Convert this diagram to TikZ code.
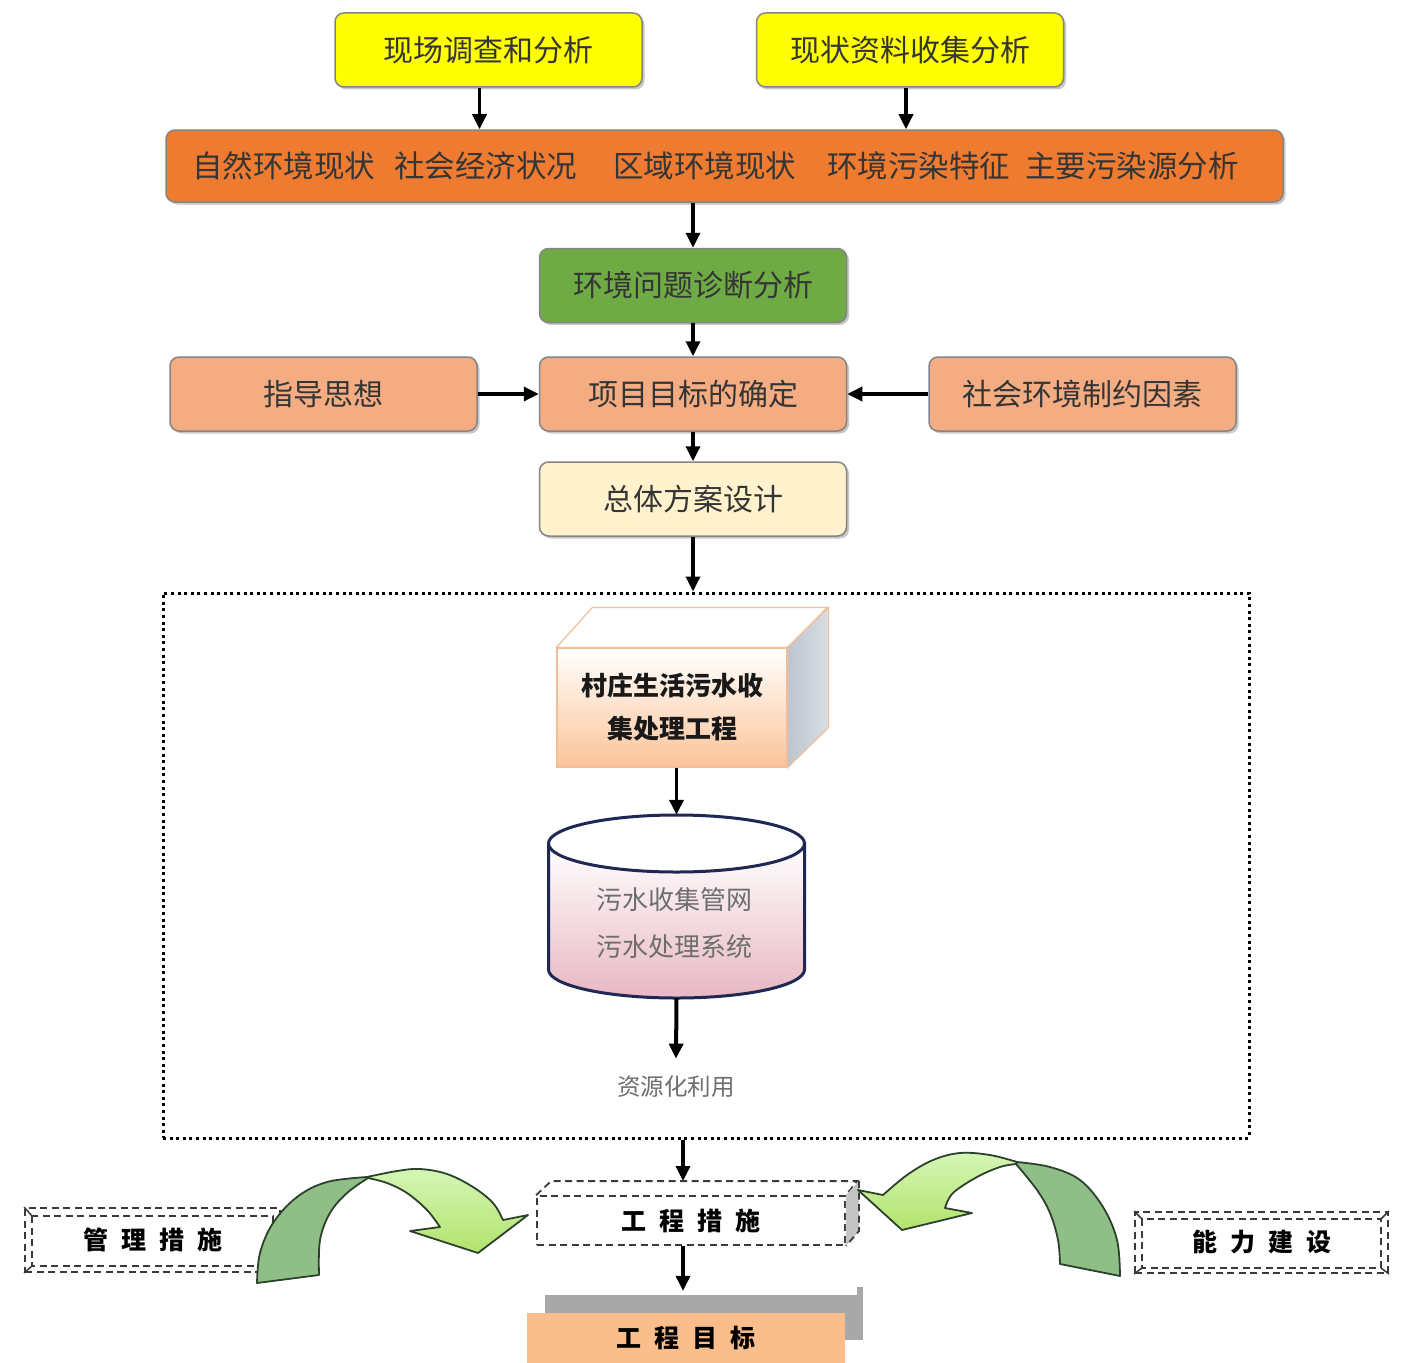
\documentclass[tikz,border=0pt]{standalone}
\usepackage{fontspec}
\newfontfamily\cjk{Noto Sans CJK SC}
\usetikzlibrary{arrows.meta,shadows}
\definecolor{yelc}{HTML}{FFFF00}
\definecolor{orgc}{HTML}{EE7B30}
\definecolor{grnc}{HTML}{6EAB44}
\definecolor{salc}{HTML}{F4AC82}
\definecolor{beic}{HTML}{FFF2CC}
\definecolor{txtc}{HTML}{353535}
\definecolor{linec}{HTML}{858585}
\definecolor{peachc}{HTML}{FAC49A}
\definecolor{peachline}{HTML}{F1BE98}
\definecolor{sidecA}{HTML}{BEC5CF}
\definecolor{sidecB}{HTML}{D9DEE4}
\definecolor{pinkc}{HTML}{E8B7C2}
\definecolor{navyc}{HTML}{1F2753}
\definecolor{greytxt}{HTML}{6E6E6E}
\definecolor{darkgrn}{HTML}{8FBF86}
\definecolor{lgrnA}{HTML}{D4F6B6}
\definecolor{lgrnB}{HTML}{B3E36C}
\definecolor{arrline}{HTML}{2C422C}
\definecolor{gbar}{HTML}{A8A8A8}
\definecolor{goalc}{HTML}{F9BE8C}
\definecolor{dashc}{HTML}{3A3A3A}
\definecolor{gcside}{HTML}{C4C4C4}
\newcommand\gapx{\hspace{13pt}}
\begin{document}
\begin{tikzpicture}[x=1pt,y=1pt,
  box/.style={draw=linec, line width=1.5pt, rounded corners=9pt, minimum width=307pt, minimum height=74pt, inner sep=0pt, text=txtc, font=\cjk\fontsize{30}{36}\selectfont, drop shadow={shadow xshift=2.5pt, shadow yshift=-2.5pt, opacity=0.22, fill=black}},
  bandtxt/.style={anchor=west, inner sep=0pt, text=txtc, font=\cjk\fontsize{30.5}{36}\selectfont},
  arr/.style={-{Triangle[length=15pt,width=14pt]}, line width=3.4pt, draw=black},
  dashline/.style={draw=dashc, line width=1.8pt, dash pattern=on 7pt off 4.5pt},
  dashtxt/.style={font=\cjk\bfseries\fontsize{25}{30}\selectfont, text=black},
  garrow/.style={draw=arrline, line width=1.8pt, line join=round},
]
\useasboundingbox (0,0) rectangle (1404,-1362);
\fill[white] (0,0) rectangle (1404,-1362);

% top boxes
\node[box, fill=yelc] (y1) at (488.5,-50) {现场调查和分析};
\node[box, fill=yelc] (y2) at (910,-50) {现状资料收集分析};
\node[box, fill=orgc, minimum width=1117pt, minimum height=72pt] (band) at (724.5,-166) {};
\node[bandtxt] (t1) at (192,-166) {自然环境现状};
\node[bandtxt] (t2) at (394,-166) {社会经济状况};
\node[bandtxt] (t3) at (613,-166) {区域环境现状};
\node[bandtxt] (t4) at (827,-166) {环境污染特征};
\node[bandtxt] (t5) at (1025,-166) {主要污染源分析};

\node[box, fill=grnc] (diag) at (693,-285.5) {环境问题诊断分析};
\node[box, fill=salc] (guide) at (323.5,-394) {指导思想};
\node[box, fill=salc] (target) at (693,-394) {项目目标的确定};
\node[box, fill=salc] (factor) at (1082.5,-394) {社会环境制约因素};
\node[box, fill=beic] (design) at (693,-499) {总体方案设计};

\draw[arr] ([xshift=-9pt]y1.south) -- ([xshift=-9pt]y1.south |- band.north);
\draw[arr] ([xshift=-4pt]y2.south) -- ([xshift=-4pt]y2.south |- band.north);
\draw[arr] (diag.north |- band.south) -- (diag.north);
\draw[arr] (diag.south) -- (target.north);
\draw[arr] (guide.east) -- (target.west);
\draw[arr] (factor.west) -- (target.east);
\draw[arr] (target.south) -- (design.north);

% dotted frame
\node[draw=black, line width=3pt, dash pattern=on 3pt off 3.6pt, minimum width=1086pt, minimum height=545pt, inner sep=0pt] (frame) at (706,-865.5) {};
\draw[arr] (design.south) -- (design.south |- frame.north);

% cube
\node[draw=peachline, line width=1.2pt, top color=white, bottom color=peachc, minimum width=230pt, minimum height=119pt, inner sep=0pt, align=center, text=black!90, font=\cjk\bfseries\fontsize{26}{43}\selectfont] (cube) at (672,-707.5) {村庄生活污水收\\集处理工程};
\draw[draw=peachline, line width=1.2pt, fill=white] (cube.north west) -- ++(36,40) -- ++(235,0) -- (cube.north east) -- cycle;
\path[draw=peachline, line width=1.2pt, left color=sidecA, right color=sidecB] (cube.north east) -- ++(41,40) -- ++(0,-120) -- (cube.south east) -- cycle;

% cylinder
\node[minimum width=256pt, minimum height=183pt, inner sep=0pt] (cyl) at (676.5,-906.5) {};
\path[draw=navyc, line width=3pt, top color=white, bottom color=pinkc] (548.5,-843.5) -- (548.5,-969.5) arc[start angle=180, end angle=360, x radius=128, y radius=28.5] -- (804.5,-843.5) -- cycle;
\draw[draw=navyc, line width=3pt, fill=white] (676.5,-843.5) ellipse[x radius=128, y radius=28.5];
\node[text=greytxt, font=\cjk\fontsize{26}{30}\selectfont] (c1) at (674.5,-900) {污水收集管网};
\node[text=greytxt, font=\cjk\fontsize{26}{30}\selectfont] (c2) at (674.5,-947) {污水处理系统};
\draw[arr] (cyl.north |- cube.south) -- (cyl.north);
\node[text=greytxt, font=\cjk\fontsize{23.5}{28}\selectfont] (res) at (676,-1087) {资源化利用};
\draw[arr, line width=4pt] (cyl.south) -- ([yshift=14pt]res.north);

% engineering measures
\coordinate (gctop) at (683,-1181);
\node[dashline, minimum width=308pt, minimum height=49pt, inner sep=0pt, dashtxt] (gc) at (691,-1220.5) {工\gapx 程\gapx 措\gapx 施};
\draw[dashline] (gc.north west) -- ++(15,14) -- ++(306,0) -- (gc.north east);
\path[fill=gcside] (gc.north east) -- ++(13,14) -- ++(0,-50) -- (gc.south east) -- cycle;
\draw[dashline] ([shift={(13,14)}]gc.north east) -- ++(0,-50) -- (gc.south east);
\draw[arr] (frame.south -| gctop) -- (gctop);

% goal
\node[fill=gbar, minimum width=318pt, minimum height=45pt, inner sep=0pt] (goalback) at (704,-1317.5) {};
\fill[gbar] ([xshift=-6pt]goalback.north east) rectangle ++(6,8);
\node[fill=goalc, minimum width=318pt, minimum height=50pt, inner sep=0pt, dashtxt] (goal) at (686,-1338) {工\gapx 程\gapx 目\gapx 标};
\draw[arr] (gc.south -| gctop) -- ([yshift=4pt]goalback.north -| gctop);

% side boxes
\node[dashline, minimum width=255pt, minimum height=64pt, inner sep=0pt, dashtxt] (mgmt) at (152.5,-1240) {管\gapx 理\gapx 措\gapx 施};
\draw[dashline] ([shift={(8,-9)}]mgmt.north west) rectangle ([shift={(-8,7)}]mgmt.south east);
\draw[dashc, line width=1.5pt] (mgmt.north west) -- ++(8,-9);
\draw[dashc, line width=1.5pt] (mgmt.south west) -- ++(8,7);

\node[dashline, minimum width=253pt, minimum height=61pt, inner sep=0pt, dashtxt] (cap) at (1261.5,-1242.5) {能\gapx 力\gapx 建\gapx 设};
\draw[dashline] ([shift={(8,-8)}]cap.north west) rectangle ([shift={(-8,6)}]cap.south east);
\draw[dashc, line width=1.5pt] (cap.north west) -- ++(8,-8);
\draw[dashc, line width=1.5pt] (cap.south west) -- ++(8,6);
\draw[dashc, line width=1.5pt] (cap.north east) -- ++(-8,-8);
\draw[dashc, line width=1.5pt] (cap.south east) -- ++(-8,6);

% left curved arrow
\path[garrow, fill=darkgrn] plot[smooth, tension=0.6] coordinates {(257,-1283) (260,-1253) (273,-1223) (297,-1197) (327,-1182) (367,-1177)} -- plot[smooth, tension=0.6] coordinates {(368,-1178) (347,-1193) (330,-1213) (320,-1240) (319,-1275)} -- cycle;
\path[garrow, top color=lgrnA, bottom color=lgrnB] plot[smooth, tension=0.6] coordinates {(367,-1177) (397,-1171) (420,-1169) (447,-1174) (473,-1187) (493,-1203) (503,-1220)} -- (528,-1215) -- (478,-1253) -- (410,-1231) -- plot[smooth, tension=0.6] coordinates {(440,-1227) (427,-1210) (407,-1193) (387,-1183) (368,-1178)} -- cycle;

% right curved arrow
\path[garrow, fill=darkgrn] plot[smooth, tension=0.6] coordinates {(1120,-1276) (1117,-1240) (1103,-1207) (1080,-1180) (1050,-1167) (1017,-1162)} -- plot[smooth, tension=0.6] coordinates {(1016,-1164) (1037,-1190) (1050,-1213) (1058,-1240) (1060,-1264)} -- cycle;
\path[garrow, top color=lgrnA, bottom color=lgrnB] plot[smooth, tension=0.6] coordinates {(1017,-1162) (990,-1155) (960,-1153) (933,-1160) (907,-1175) (883,-1195)} -- (858,-1190) -- (902,-1230) -- (972,-1213) -- plot[smooth, tension=0.6] coordinates {(945,-1208) (953,-1193) (977,-1177) (1000,-1167) (1016,-1164)} -- cycle;
\end{tikzpicture}
\end{document}
